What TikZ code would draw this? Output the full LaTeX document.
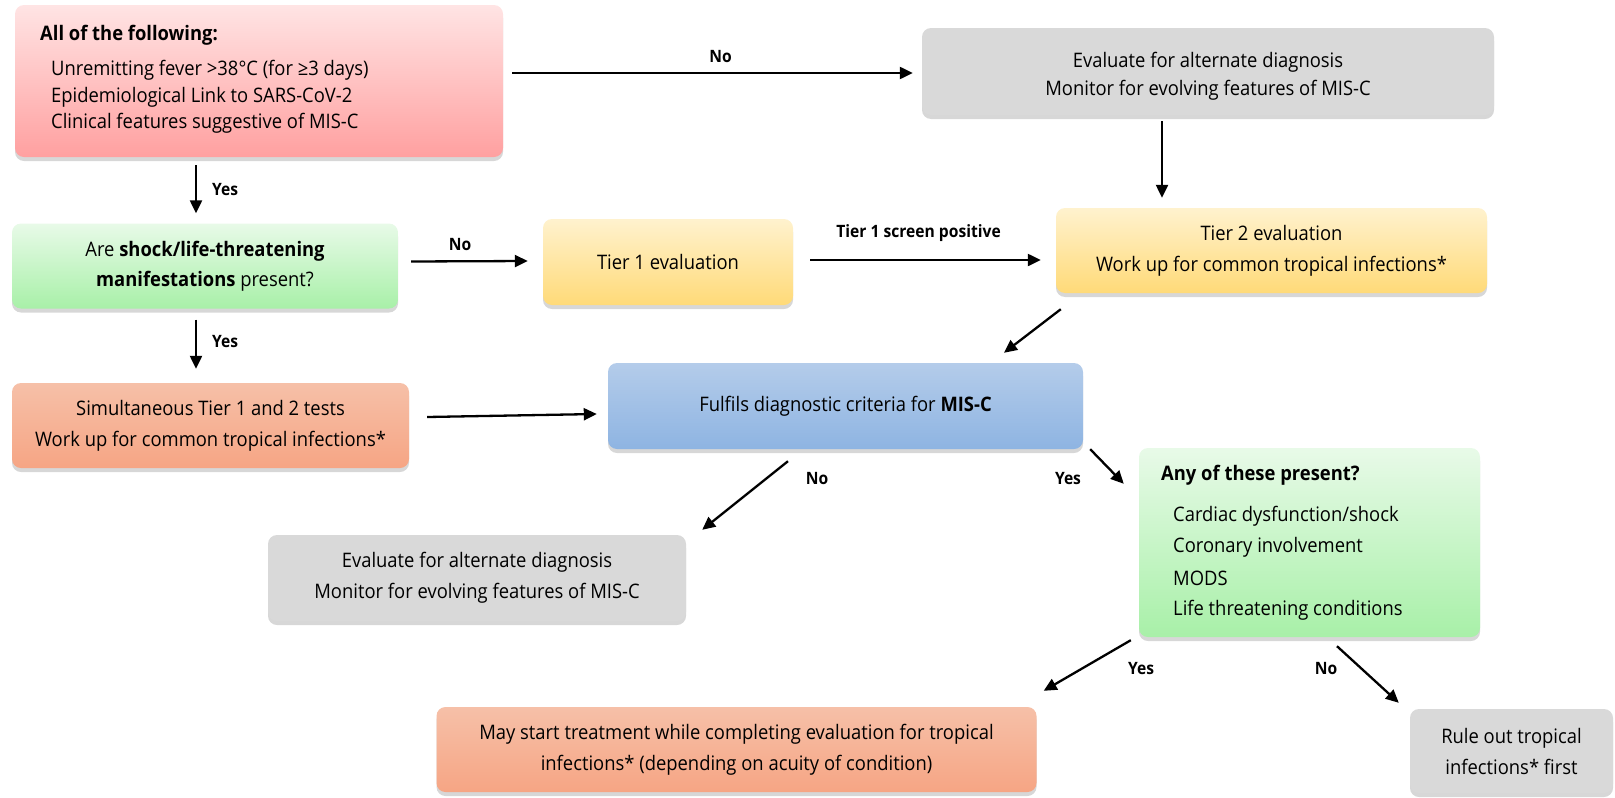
\documentclass[tikz,border=0pt]{standalone}
\usepackage{fontspec}
\setmainfont{Open Sans}[FakeStretch=0.92]
\usetikzlibrary{arrows.meta,calc,shadows}
\definecolor{redT}{RGB}{255,228,228}
\definecolor{redB}{RGB}{255,160,160}
\definecolor{grayF}{RGB}{217,217,217}
\definecolor{greenT}{RGB}{232,250,232}
\definecolor{greenB}{RGB}{168,240,168}
\definecolor{yelT}{RGB}{255,242,206}
\definecolor{yelB}{RGB}{255,218,120}
\definecolor{orgT}{RGB}{246,192,168}
\definecolor{orgB}{RGB}{246,165,132}
\definecolor{bluT}{RGB}{180,204,234}
\definecolor{bluB}{RGB}{142,180,226}
\begin{document}
\begin{tikzpicture}[x=1pt,y=-1pt,
 box/.style={rounded corners=9pt, inner sep=0pt, align=center,
   font=\fontsize{20}{31}\selectfont,
   drop shadow={shadow xshift=0pt,shadow yshift=-4pt,opacity=0.35,fill=black!45}},
 redbox/.style={box, top color=redT, bottom color=redB},
 graybox/.style={box, fill=grayF},
 greenbox/.style={box, top color=greenT, bottom color=greenB},
 yelbox/.style={box, top color=yelT, bottom color=yelB},
 orgbox/.style={box, top color=orgT, bottom color=orgB},
 blubox/.style={box, top color=bluT, bottom color=bluB},
 ctxt/.style={inner sep=0pt, align=center, font=\fontsize{20}{28}\selectfont},
 ltxt/.style={anchor=west, inner sep=0pt, font=\fontsize{20}{24}\selectfont},
 htxt/.style={anchor=west, inner sep=0pt, font=\fontsize{20}{24}\selectfont\bfseries},
 lbl/.style={inner sep=0pt, font=\fontsize{17}{19}\selectfont\bfseries},
 arr/.style={line width=2.3pt, -{Triangle[length=13pt,width=12pt]}}
]
\useasboundingbox (0,0) rectangle (1615,798);

% boxes
\node[redbox, minimum width=488pt, minimum height=152pt] (A) at (259,81) {};
\node[htxt] (A0) at (40,35) {All of the following:};
\node[ltxt] (A1) at (51,70) {Unremitting fever >38°C (for ≥3 days)};
\node[ltxt] (A2) at (51,97) {Epidemiological Link to SARS-CoV-2};
\node[ltxt] (A3) at (51,123) {Clinical features suggestive of MIS-C};

\node[graybox, minimum width=572pt, minimum height=87pt] (B) at (1208,71.5) {};
\node[ctxt] (Bt) at (1208,76)
  {Evaluate for alternate diagnosis\\Monitor for evolving features of MIS-C};

\node[greenbox, minimum width=386pt, minimum height=85pt, font=\fontsize{20}{30}\selectfont] (C) at (205,266)
  {Are \textbf{shock/life-threatening}\\\textbf{manifestations} present?};

\node[yelbox, minimum width=250pt, minimum height=86pt] (D) at (668,262) {Tier 1 evaluation};

\node[yelbox, minimum width=431pt, minimum height=85pt] (E) at (1271.5,250.5)
  {Tier 2 evaluation\\Work up for common tropical infections*};

\node[orgbox, minimum width=397pt, minimum height=85pt] (F) at (210.5,425.5)
  {Simultaneous Tier 1 and 2 tests\\Work up for common tropical infections*};

\node[blubox, minimum width=475pt, minimum height=86pt] (G) at (845.5,406)
  {Fulfils diagnostic criteria for \textbf{MIS-C}};

\node[graybox, minimum width=418pt, minimum height=86pt] (H) at (477,578)
  {Evaluate for alternate diagnosis\\Monitor for evolving features of MIS-C};

\node[greenbox, minimum width=341pt, minimum height=189pt] (I) at (1309.5,542.5) {};
\node[htxt] (I0) at (1161,475) {Any of these present?};
\node[ltxt] (I1) at (1173,516) {Cardiac dysfunction/shock};
\node[ltxt] (I2) at (1173,547) {Coronary involvement};
\node[ltxt] (I3) at (1173,578) {MODS};
\node[ltxt] (I4) at (1173,610) {Life threatening conditions};

\node[orgbox, minimum width=600pt, minimum height=85pt] (J) at (736.5,749.5)
  {May start treatment while completing evaluation for tropical\\infections* (depending on acuity of condition)};

\node[graybox, minimum width=203pt, minimum height=84pt] (K) at (1511.5,751)
  {Rule out tropical\\infections* first};

% connectors
\draw[arr] ($(A.east)+(9,-8)$) -- ($(B.west)+(-9,1.5)$) node[lbl, pos=0.52, above=9pt] (l1) {No};
\draw[arr] ($(A.south)+(-63,8)$) -- ($(C.north)+(-9,-10)$) coordinate[pos=0.5] (m2);
\node[lbl, anchor=west] (l2) at ($(m2)+(16,0)$) {Yes};
\draw[arr] ($(C.south)+(-9,11)$) -- ($(F.north)+(-14.5,-14)$) coordinate[pos=0.45] (m3);
\node[lbl, anchor=west] (l3) at ($(m3)+(16,0)$) {Yes};
\draw[arr] ($(C.east)+(13,-4.5)$) -- ($(D.west)+(-15,-1)$) node[lbl, pos=0.42, above=9pt] (l4) {No};
\draw[arr] ($(D.east)+(17,-2)$) -- ($(E.west)+(-15,9.5)$) node[lbl, pos=0.47, above=17pt] (l5) {Tier 1 screen positive};
\draw[arr] ($(B.south)+(-46,6)$) -- ($(E.north)+(-109.5,-10)$);
\draw[arr] ($(E.south west)+(5,16)$) -- ($(G.north)+(158.5,-10)$);
\draw[arr] ($(F.east)+(18,-8.5)$) -- ($(G.west)+(-11,8)$);
\draw[arr] ($(G.south)+(-57.5,12)$) -- ($(H.north east)+(16,-5)$);
\node[lbl] (l6) at (817,479) {No};
\draw[arr] ($(G.south east)+(7,0)$) -- ($(I.north west)+(-15,36)$);
\node[lbl] (l7) at (1068,479) {Yes};
\draw[arr] ($(I.south west)+(-8,3)$) -- ($(J.north east)+(7,-16)$);
\node[lbl] (l8) at (1141,669) {Yes};
\draw[arr] ($(I.south)+(27.5,9)$) -- ($(K.north west)+(-11,-6)$);
\node[lbl] (l9) at (1326,669) {No};
\end{tikzpicture}
\end{document}
